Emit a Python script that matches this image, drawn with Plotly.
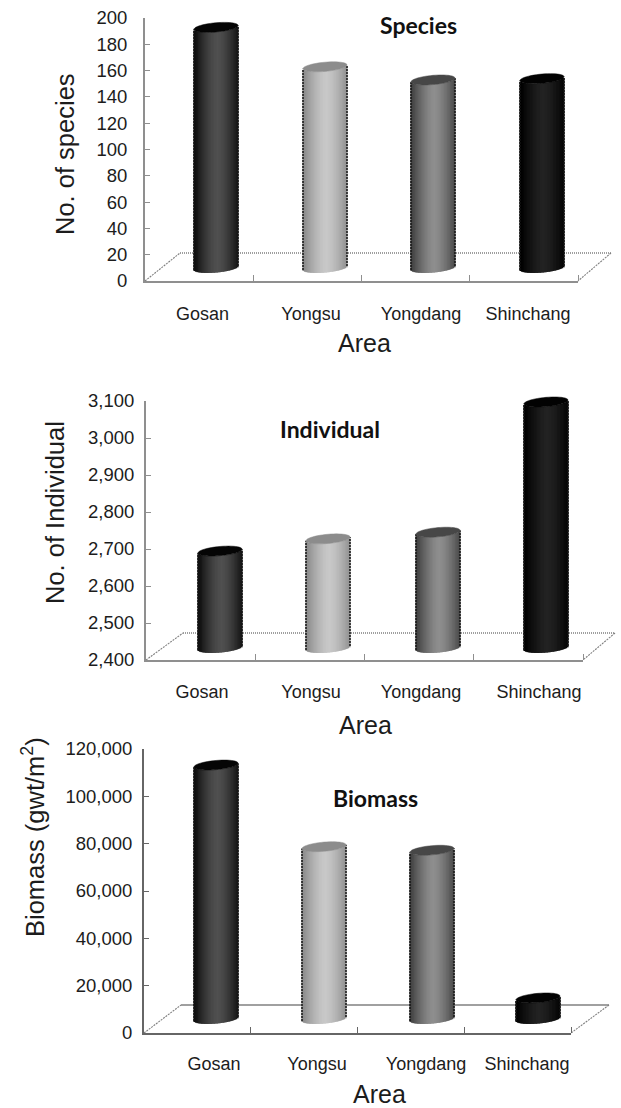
import numpy as np
import plotly.graph_objects as go

W, H = 621, 1108
areas = ["Gosan", "Yongsu", "Yongdang", "Shinchang"]
species = [183, 153, 143, 144]
individuals = [2662, 2695, 2713, 3065]
biomass = [107300, 72800, 71300, 8900]

edge_cols = [(14, 14, 14), (140, 140, 140), (66, 66, 66), (0, 0, 0)]
mid_cols = [(80, 80, 80), (200, 200, 200), (142, 142, 142), (34, 34, 34)]
top_cols = ["#050505", "#8c8c8c", "#474747", "#020202"]
TXT = "#1c1c1c"
SANS = "Liberation Sans, Arial, sans-serif"

panels = [
    dict(vals=species, ymin=0, ymax=200, dtick=20, fmt="d", xl=145, xr=578, yb=281, yt=18,
         label_px=[202.5, 311, 421, 528], back=253, base_y=268, bar_cx=[216, 325, 433, 542], back_left=180, right=611,
         ytitle="No. of species", ytx=65, yty=154, area=(364, 343), title="Species", tpos=(418, 25),
         xstand=15, ystand=12, axcol="#8f8f8f", floor="1px,1px"),
    dict(vals=individuals, ymin=2400, ymax=3100, dtick=100, fmt=",d", xl=146, xr=583, yb=660, yt=401,
         label_px=[202, 311, 421, 539], back=633, base_y=648, bar_cx=[220, 328, 438, 546], back_left=183, right=615,
         ytitle="No. of Individual", ytx=55, yty=513, area=(366, 725), title="Individual", tpos=(330, 429),
         xstand=14, ystand=6, axcol="#8f8f8f", floor="1px,1px"),
    dict(vals=biomass, ymin=0, ymax=120000, dtick=20000, fmt=",d", xl=144, xr=571, yb=1033, yt=749,
         label_px=[214, 317, 426, 527], back=1005, base_y=1019, bar_cx=[216, 324, 432, 538], back_left=181, right=609,
         ytitle="Biomass (gwt/m<sup>2</sup>)", ytx=33, yty=837, area=(379, 1093.5), title="Biomass", tpos=(375, 798),
         xstand=13, ystand=6, axcol="#666666", floor="solid"),
]

fig = go.Figure()
annotations = []
shapes = []
N = 30
BAR_PX, RY_PX, TILT_PX = 44, 4.6, 1.9

for i, p in enumerate(panels, start=1):
    suffix = "" if i == 1 else str(i)
    xn, yn = f"x{suffix}", f"y{suffix}"
    span = p["xr"] - p["xl"]
    cat_px = span / 4
    to_cat = lambda px: (px - p["xl"]) / cat_px - 0.5
    ppu = (p["yb"] - p["yt"]) / (p["ymax"] - p["ymin"])
    yspan = p["ymax"] - p["ymin"]
    hw = BAR_PX / 2 / cat_px
    ry, tilt = RY_PX / ppu, TILT_PX / ppu
    base0 = p["ymin"] + (p["yb"] - p["base_y"]) / ppu

    # floor: drawn in axis-domain fractions so that it may run beyond the axis end
    fx = [0, (p["back_left"] - p["xl"]) / span, (p["right"] - p["xl"]) / span, 1]
    back_d = (p["yb"] - p["back"]) / (p["yb"] - p["yt"])
    fy = [0, back_d, back_d, 0]
    for a in range(3):
        shapes.append(dict(type="line", layer="below", xref=f"{xn} domain", yref=f"{yn} domain",
                           x0=fx[a], x1=fx[a + 1], y0=fy[a], y1=fy[a + 1],
                           line=dict(color="#808080", width=1.4 if a == 1 else 1.1,
                                     dash=p["floor"] if a == 1 else "2px,1px")))

    # cylinder bodies: vertical strips shaded across the width
    us = (np.arange(N) + 0.5) / N * 2 - 1
    xs, bases, heights, cols = [], [], [], []
    for k, v in enumerate(p["vals"]):
        cx = to_cat(p["bar_cx"][k])
        for u in us:
            curve = ry * np.sqrt(1 - u * u)
            lo = base0 - curve + tilt * u
            t = min(1.0, abs(u - 0.08) ** 1.5)
            c = [round(m * (1 - t) + e * t) for m, e in zip(mid_cols[k], edge_cols[k])]
            xs.append(cx + u * hw)
            bases.append(lo)
            heights.append(v - p["ymin"])
            cols.append(f"rgb({c[0]},{c[1]},{c[2]})")
    fig.add_trace(go.Bar(x=xs, y=heights, base=bases, width=2 * hw / N * 1.8, xaxis=xn, yaxis=yn,
                         marker=dict(color=cols, line=dict(width=0)), cliponaxis=False, hoverinfo="skip"))

    # rough dark edges, and the top ellipses (shapes, so that they may rise above the axis end)
    th = np.linspace(0, 2 * np.pi, 48, endpoint=False)
    for k, v in enumerate(p["vals"]):
        cx = to_cat(p["bar_cx"][k])
        ex = cx + hw * np.cos(th)
        ey = base0 + (v - p["ymin"]) + ry * np.sin(th) + tilt * np.cos(th)
        path = "M " + " L ".join(f"{(a + 0.5) / 4:.5f},{(b - p['ymin']) / yspan:.5f}" for a, b in zip(ex, ey)) + " Z"
        shapes.append(dict(type="path", layer="above", xref=f"{xn} domain", yref=f"{yn} domain", path=path,
                           fillcolor=top_cols[k], line=dict(width=0.5, color=top_cols[k])))
        for s in (-1, 1):
            fig.add_trace(go.Scatter(x=[cx + s * hw, cx + s * hw],
                                     y=[base0 + s * tilt, base0 + (v - p["ymin"]) + s * tilt],
                                     xaxis=xn, yaxis=yn, mode="lines", cliponaxis=False,
                                     line=dict(color="#151515", width=1.5, dash="2px,1px"), hoverinfo="skip"))

    dom_x = [p["xl"] / W, p["xr"] / W]
    dom_y = [1 - p["yb"] / H, 1 - p["yt"] / H]
    fig.update_layout({
        f"xaxis{suffix}": dict(domain=dom_x, range=[-0.5, 3.5], anchor=yn, showgrid=False, zeroline=False,
                               showline=True, linecolor=p["axcol"], linewidth=2,
                               tickmode="array", tickvals=[to_cat(px) for px in p["label_px"]], ticktext=areas,
                               ticks="", ticklabelstandoff=p["xstand"],
                               tickfont=dict(family=SANS, size=18, color=TXT),
                               minor=dict(tickmode="array", tickvals=[0.5, 1.5, 2.5, 3.5], ticks="inside",
                                          ticklen=6, tickcolor=p["axcol"], tickwidth=1)),
        f"yaxis{suffix}": dict(domain=dom_y, range=[p["ymin"], p["ymax"]], anchor=xn, showgrid=False, zeroline=False,
                               showline=True, linecolor=p["axcol"], linewidth=2, dtick=p["dtick"], tick0=p["ymin"],
                               tickformat=p["fmt"], ticks="inside", ticklen=5, tickcolor=p["axcol"], tickwidth=1,
                               ticklabelstandoff=p["ystand"], tickfont=dict(family=SANS, size=18.5, color=TXT)),
    })

    annotations.append(dict(text=p["ytitle"], x=p["ytx"] / W, y=1 - p["yty"] / H, xref="paper", yref="paper",
                            textangle=-90, showarrow=False, xanchor="center", yanchor="middle",
                            font=dict(family=SANS, size=25.5, color=TXT)))
    annotations.append(dict(text="Area", x=p["area"][0] / W, y=1 - p["area"][1] / H, xref="paper", yref="paper",
                            showarrow=False, xanchor="center", yanchor="middle",
                            font=dict(family=SANS, size=25, color=TXT)))
    annotations.append(dict(text=f"<b>{p['title']}</b>", x=p["tpos"][0] / W, y=1 - p["tpos"][1] / H,
                            xref="paper", yref="paper", showarrow=False, xanchor="center", yanchor="middle",
                            font=dict(family="Lato, Open Sans, sans-serif", size=23, color="#111111")))

fig.update_layout(width=W, height=H, margin=dict(l=0, r=0, t=0, b=0, autoexpand=False), showlegend=False,
                  paper_bgcolor="white", plot_bgcolor="white", barmode="overlay",
                  annotations=annotations, shapes=shapes)
fig.write_html("out.html", config=dict(displayModeBar=False),
               post_script="document.body.style.margin='0';document.body.style.overflow='hidden';")
